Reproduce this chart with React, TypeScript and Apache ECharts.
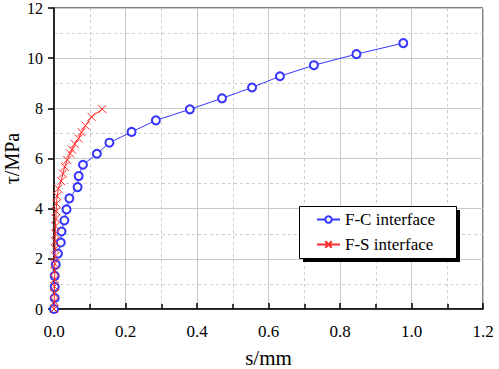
import React, { useEffect, useRef } from "react";
import * as echarts from "echarts";

const fcX = [0, 0.002, 0.002, 0.002, 0.005, 0.011, 0.019, 0.021, 0.029, 0.035, 0.043, 0.066, 0.069, 0.081, 0.120, 0.155, 0.217, 0.285, 0.380, 0.470, 0.554, 0.632, 0.727, 0.846, 0.977];
const fcY = [0, 0.44, 0.88, 1.32, 1.77, 2.21, 2.65, 3.09, 3.53, 3.97, 4.41, 4.86, 5.30, 5.75, 6.19, 6.63, 7.06, 7.52, 7.96, 8.40, 8.83, 9.28, 9.72, 10.16, 10.60];

const fsX = [0, 0.001, 0.001, 0.001, 0.002, 0.002, 0.002, 0.003, 0.003, 0.003, 0.004, 0.004, 0.005, 0.006, 0.007, 0.009, 0.012, 0.020, 0.025, 0.030, 0.037, 0.045, 0.050, 0.058, 0.069, 0.077, 0.088, 0.105, 0.135];
const fsY = [0, 0.3, 0.6, 0.9, 1.2, 1.5, 1.8, 2.1, 2.4, 2.7, 3.0, 3.3, 3.6, 3.9, 4.2, 4.5, 4.8, 5.10, 5.40, 5.67, 5.94, 6.20, 6.36, 6.58, 6.80, 7.05, 7.31, 7.66, 7.97];

const seriesNames = ["F-C interface", "F-S interface"];
const xTitle = "s/mm";
const yTitle = "τ/MPa";

const FONT = "Liberation Serif";

export default function App() {
  const ref = useRef<HTMLDivElement>(null);
  useEffect(() => {
    if (!ref.current) return;
    const chart = echarts.init(ref.current, undefined, { renderer: "svg" });
    const blue = "#3535ff";
    const red = "#ff2a2a";
    chart.setOption({
      animation: false,
      backgroundColor: "#fff",
      textStyle: { fontFamily: FONT },
      grid: {
        left: 54,
        right: 16,
        top: 8,
        bottom: 60,
        containLabel: false,
        outerBoundsMode: "none",
        show: true,
        borderColor: "#000",
        borderWidth: 1,
        backgroundColor: "transparent",
      },
      xAxis: {
        type: "value",
        min: 0,
        max: 1.2,
        interval: 0.2,
        name: xTitle,
        nameLocation: "middle",
        nameGap: 38,
        nameMoveOverlap: false,
        nameTextStyle: { fontFamily: FONT, fontSize: 21, color: "#000" },
        axisLine: { lineStyle: { color: "#000", width: 1.5 } },
        axisTick: { inside: true, length: 6, lineStyle: { color: "#000", width: 1.5 } },
        minorTick: { show: true, splitNumber: 2, length: 5, lineStyle: { color: "#000", width: 1.5 } },
        axisLabel: {
          fontFamily: FONT,
          fontSize: 17,
          color: "#000",
          margin: 14,
          formatter: (v: number) => v.toFixed(1),
        },
        splitLine: { show: true, lineStyle: { color: "#c8c8c8", width: 1 } },
        minorSplitLine: { show: true, lineStyle: { color: "#cdcdcd", type: [3, 3], width: 1 } },
      },
      yAxis: {
        type: "value",
        min: 0,
        max: 12,
        interval: 2,
        name: yTitle,
        nameLocation: "middle",
        nameGap: 32,
        nameMoveOverlap: false,
        nameTextStyle: { fontFamily: FONT, fontSize: 20, color: "#000" },
        axisLine: { lineStyle: { color: "#000", width: 1.5 } },
        axisTick: { inside: false, length: 6, lineStyle: { color: "#000", width: 1.5 } },
        minorTick: { show: false, splitNumber: 2 },
        axisLabel: { fontFamily: FONT, fontSize: 16, lineHeight: 14, color: "#000", margin: 11 },
        splitLine: { show: true, lineStyle: { color: "#c8c8c8", width: 1 } },
        minorSplitLine: { show: true, lineStyle: { color: "#cdcdcd", type: [3, 3], width: 1 } },
      },
      graphic: [
        { type: "rect", z: 3, shape: { x: 303, y: 210, width: 157, height: 52 }, style: { fill: "#000" } },
        { type: "rect", z: 3, shape: { x: 299.5, y: 206.5, width: 157, height: 52 }, style: { fill: "#fff", stroke: "#000", lineWidth: 1 } },
      ],
      legend: {
        z: 5,
        orient: "vertical",
        left: 316,
        top: 211,
        padding: 0,
        itemWidth: 23,
        itemHeight: 8,
        itemGap: 8,
        textStyle: { fontFamily: FONT, fontSize: 17, color: "#000" },
        data: seriesNames,
      },
      series: [
        {
          name: seriesNames[0],
          type: "line",
          data: fcX.map((x, i) => [x, fcY[i]]),
          symbol: "emptyCircle",
          symbolSize: 8,
          lineStyle: { color: blue, width: 1 },
          itemStyle: { color: blue, borderColor: blue, borderWidth: 1 },
          z: 2,
        },
        {
          name: seriesNames[1],
          type: "line",
          data: fsX.map((x, i) => [x, fsY[i]]),
          symbol: "path://M0,0L10,10M10,0L0,10",
          symbolSize: 8,
          lineStyle: { color: red, width: 1 },
          itemStyle: { color: "none", borderColor: red, borderWidth: 1 },
          z: 3,
        },
      ],
    });
    return () => chart.dispose();
  }, []);
  return <div ref={ref} style={{ width: 499, height: 369, position: "absolute", left: 0, top: 0 }} />;
}
